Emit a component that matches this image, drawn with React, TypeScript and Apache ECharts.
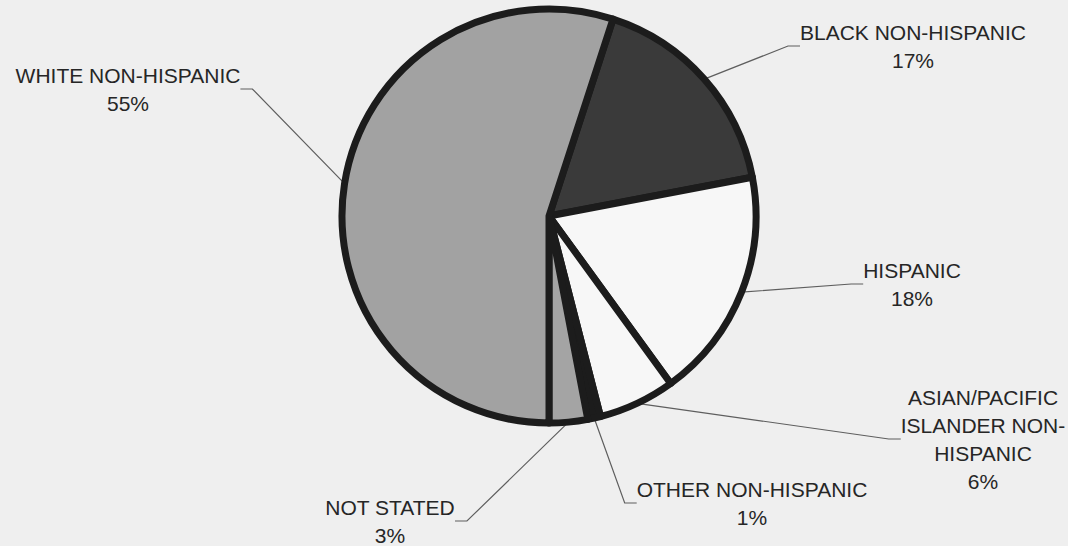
import React, { useEffect, useRef } from "react";
import * as echarts from "echarts";

// Data (clockwise from the top-right boundary)
const categories = [
  "BLACK NON-HISPANIC",
  "HISPANIC",
  "ASIAN/PACIFIC ISLANDER NON-HISPANIC",
  "OTHER NON-HISPANIC",
  "NOT STATED",
  "WHITE NON-HISPANIC",
];
const labelTexts = [
  "BLACK NON-HISPANIC",
  "HISPANIC",
  "ASIAN/PACIFIC\nISLANDER NON-\nHISPANIC",
  "OTHER NON-HISPANIC",
  "NOT STATED",
  "WHITE NON-HISPANIC",
];
const percents = [17, 18, 6, 1, 3, 55];

// Styling / layout (kept separate from data)
const sliceColors = ["#3a3a3a", "#f7f7f7", "#f7f7f7", "#1c1c1c", "#a4a4a4", "#a2a2a2"];
const labelCenters: [number, number][] = [
  [913, 46],
  [912, 284],
  [983, 439],
  [752, 503],
  [390, 521],
  [128, 89],
];

export default function App() {
  const ref = useRef<HTMLDivElement>(null);
  useEffect(() => {
    document.body.style.margin = "0";
    if (!ref.current) return;
    const chart = echarts.init(ref.current, null, { renderer: "svg" });
    chart.setOption({
      animation: false,
      backgroundColor: "#efefef",
      series: [
        {
          type: "pie",
          center: [549, 216],
          radius: 207,
          startAngle: 72,
          clockwise: true,
          silent: true,
          emphasis: { disabled: true },
          data: categories.map((c, i) => ({
            name: c,
            value: percents[i],
            itemStyle: { color: sliceColors[i] },
          })),
          itemStyle: { borderColor: "#1c1c1c", borderWidth: 7 },
          label: {
            show: true,
            position: "outside",
            formatter: (p: any) => `${labelTexts[p.dataIndex]}\n${percents[p.dataIndex]}%`,
            fontFamily: "Liberation Sans, Arial, sans-serif",
            fontSize: 21,
            lineHeight: 28,
            color: "#262626",
            align: "center",
          },
          labelLine: {
            show: true,
            length: 10,
            length2: 12,
            lineStyle: { color: "#5e5e5e", width: 1.2 },
          },
          labelLayout: (params: any) => {
            const [x, y] = labelCenters[params.dataIndex];
            return { x, y, align: "center", verticalAlign: "middle" };
          },
        },
      ],
    });
    return () => chart.dispose();
  }, []);
  return <div ref={ref} style={{ width: 1068, height: 546 }} />;
}
